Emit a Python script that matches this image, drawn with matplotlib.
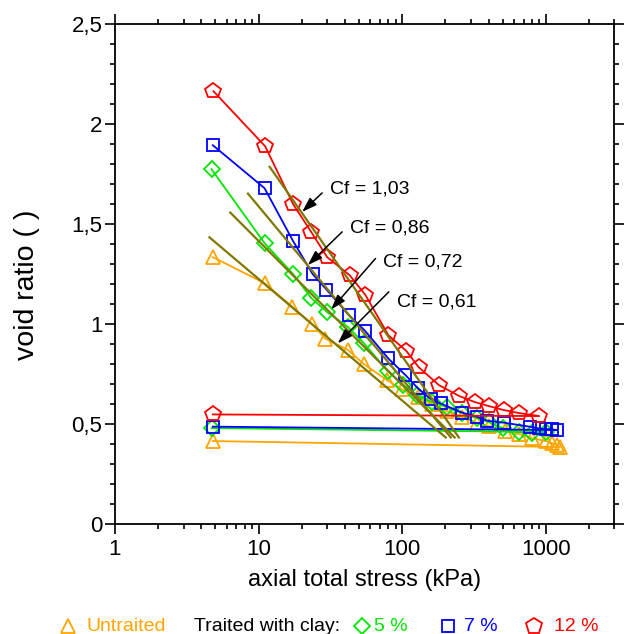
import matplotlib
matplotlib.use('Agg')
import matplotlib.pyplot as plt
from matplotlib.lines import Line2D
from matplotlib.ticker import LogLocator, MultipleLocator, FuncFormatter, NullFormatter

plt.rcParams['font.family'] = ['Liberation Sans', 'DejaVu Sans']

# untraited (loading, then unloading point at the end)
x_untr = [4.8, 11, 17.1, 23.6, 29.1, 42, 54, 78.4, 100, 128, 160, 205, 260, 330, 400, 520, 650, 800, 1000, 1100, 1200, 1250, 4.8]
e_untr = [1.335, 1.205, 1.088, 1.0, 0.928, 0.87, 0.80, 0.72, 0.673, 0.637, 0.60, 0.565, 0.535, 0.505, 0.49, 0.465, 0.45, 0.43, 0.415, 0.405, 0.395, 0.385, 0.415]

# 5 % clay
x_5 = [4.7, 11, 17.4, 23.3, 30, 42, 54, 79, 102, 127, 160, 205, 260, 330, 400, 500, 650, 800, 1000, 4.7]
e_5 = [1.775, 1.405, 1.25, 1.13, 1.06, 0.985, 0.905, 0.765, 0.695, 0.645, 0.61, 0.585, 0.555, 0.53, 0.51, 0.48, 0.46, 0.455, 0.46, 0.48]

# 7 % clay
x_7 = [4.8, 11, 17.4, 23.8, 29.7, 42.5, 55, 80, 105, 129, 158, 185, 262, 330, 390, 510, 770, 900, 1000, 1100, 1200, 4.8]
e_7 = [1.895, 1.68, 1.415, 1.25, 1.173, 1.045, 0.967, 0.828, 0.746, 0.678, 0.625, 0.603, 0.557, 0.537, 0.517, 0.507, 0.487, 0.478, 0.475, 0.474, 0.47, 0.487]

# 12 % clay
x_12 = [4.85, 11.1, 17.4, 23.3, 30, 43, 55.5, 80, 107, 130, 180, 250, 320, 400, 510, 650, 900, 4.8]
e_12 = [2.165, 1.89, 1.60, 1.46, 1.335, 1.245, 1.145, 0.945, 0.865, 0.785, 0.695, 0.64, 0.61, 0.59, 0.57, 0.555, 0.54, 0.548]

# compression index lines (untraited, 5, 7, 12 %)
fit_x0 = [4.55, 6.35, 8.43, 11.94]
fit_e0 = [1.434, 1.558, 1.653, 1.787]
fit_x1 = [201, 232, 218, 248]
fit_e1 = [0.433, 0.433, 0.433, 0.433]

cf_labels = ['Cf = 1,03', 'Cf = 0,86', 'Cf = 0,72', 'Cf = 0,61']
cf_text_xy = [(31.3, 1.6735), (43.2, 1.4785), (73.8, 1.3115), (91.4, 1.1115)]
cf_tail_xy = [(27.7, 1.6565), (38.2, 1.4615), (65.2, 1.3285), (80.7, 1.1615)]
cf_tip_xy = [(20.1, 1.5615), (22.0, 1.295), (32.0, 1.0735), (35.6, 0.9035)]

c_untr = '#FFA500'
c_5 = '#00E600'
c_7 = '#0000FF'
c_12 = '#FF0000'
c_fit = '#807800'

fig = plt.figure(figsize=(6.27, 6.34), dpi=100)
ax = fig.add_axes([0.1834, 0.1735, 0.7964, 0.7882])

kw = dict(lw=1.3, mfc='none', mew=1.3)
ax.plot(x_untr, e_untr, color=c_untr, marker='^', ms=10.5, **kw)
ax.plot(x_5, e_5, color=c_5, marker='D', ms=8, **kw)
ax.plot(x_7, e_7, color=c_7, marker='s', ms=9, **kw)
ax.plot(x_12, e_12, color=c_12, marker='p', ms=11.5, **kw)

for i in range(len(fit_x0)):
    ax.plot([fit_x0[i], fit_x1[i]], [fit_e0[i], fit_e1[i]], color=c_fit, lw=1.6)

for lab, txy, tail, tip in zip(cf_labels, cf_text_xy, cf_tail_xy, cf_tip_xy):
    ax.annotate('', xy=tip, xytext=tail,
                arrowprops=dict(arrowstyle='-|>,head_length=0.9,head_width=0.3',
                                color='black', lw=1.1, shrinkA=0, shrinkB=0))
    ax.text(txy[0], txy[1], lab, fontsize=14, ha='left', va='center')

ax.set_xscale('log')
ax.set_xlim(1, 3000)
ax.set_ylim(0, 2.5)
ax.xaxis.set_major_locator(LogLocator(base=10, numticks=10))
ax.xaxis.set_minor_locator(LogLocator(base=10, subs=range(2, 10), numticks=20))
ax.xaxis.set_minor_formatter(NullFormatter())
ax.xaxis.set_major_formatter(FuncFormatter(lambda v, p: '%d' % v))
ax.yaxis.set_major_locator(MultipleLocator(0.5))
ax.yaxis.set_minor_locator(MultipleLocator(0.1))
ax.yaxis.set_major_formatter(FuncFormatter(lambda v, p: ('%g' % v).replace('.', ',')))

ax.tick_params(which='both', direction='out', top=True, right=True,
               labeltop=False, labelright=False, labelsize=16, width=1.2)
ax.tick_params(which='major', length=7, pad=2)
ax.tick_params(axis='x', which='major', pad=4)
ax.tick_params(which='minor', length=3.5)
for s in ax.spines.values():
    s.set_linewidth(1.3)

ax.set_xlabel('axial total stress (kPa)', fontsize=17, labelpad=6)
fig.text(27 / 627, 1 - 285 / 634, 'void ratio ( )', fontsize=20.5, rotation=90,
         ha='center', va='center')

# legend row at the bottom
ly = 0.012
def mark(x, m, c, ms):
    fig.add_artist(Line2D([x / 627], [ly], transform=fig.transFigure, marker=m,
                          ms=ms, mfc='none', mec=c, mew=1.3, ls='none'))
mark(68, '^', c_untr, 10)
fig.text(87 / 627, ly, 'Untraited', color=c_untr, fontsize=14, va='center')
fig.text(194 / 627, ly, 'Traited with clay:', color='black', fontsize=14, va='center')
mark(362, 'D', c_5, 8)
fig.text(374 / 627, ly, '5 %', color=c_5, fontsize=14, va='center')
mark(448, 's', c_7, 9)
fig.text(464 / 627, ly, '7 %', color=c_7, fontsize=14, va='center')
mark(534, 'p', c_12, 12)
fig.text(554 / 627, ly, '12 %', color=c_12, fontsize=14, va='center')

fig.savefig('out.png', dpi=100)
